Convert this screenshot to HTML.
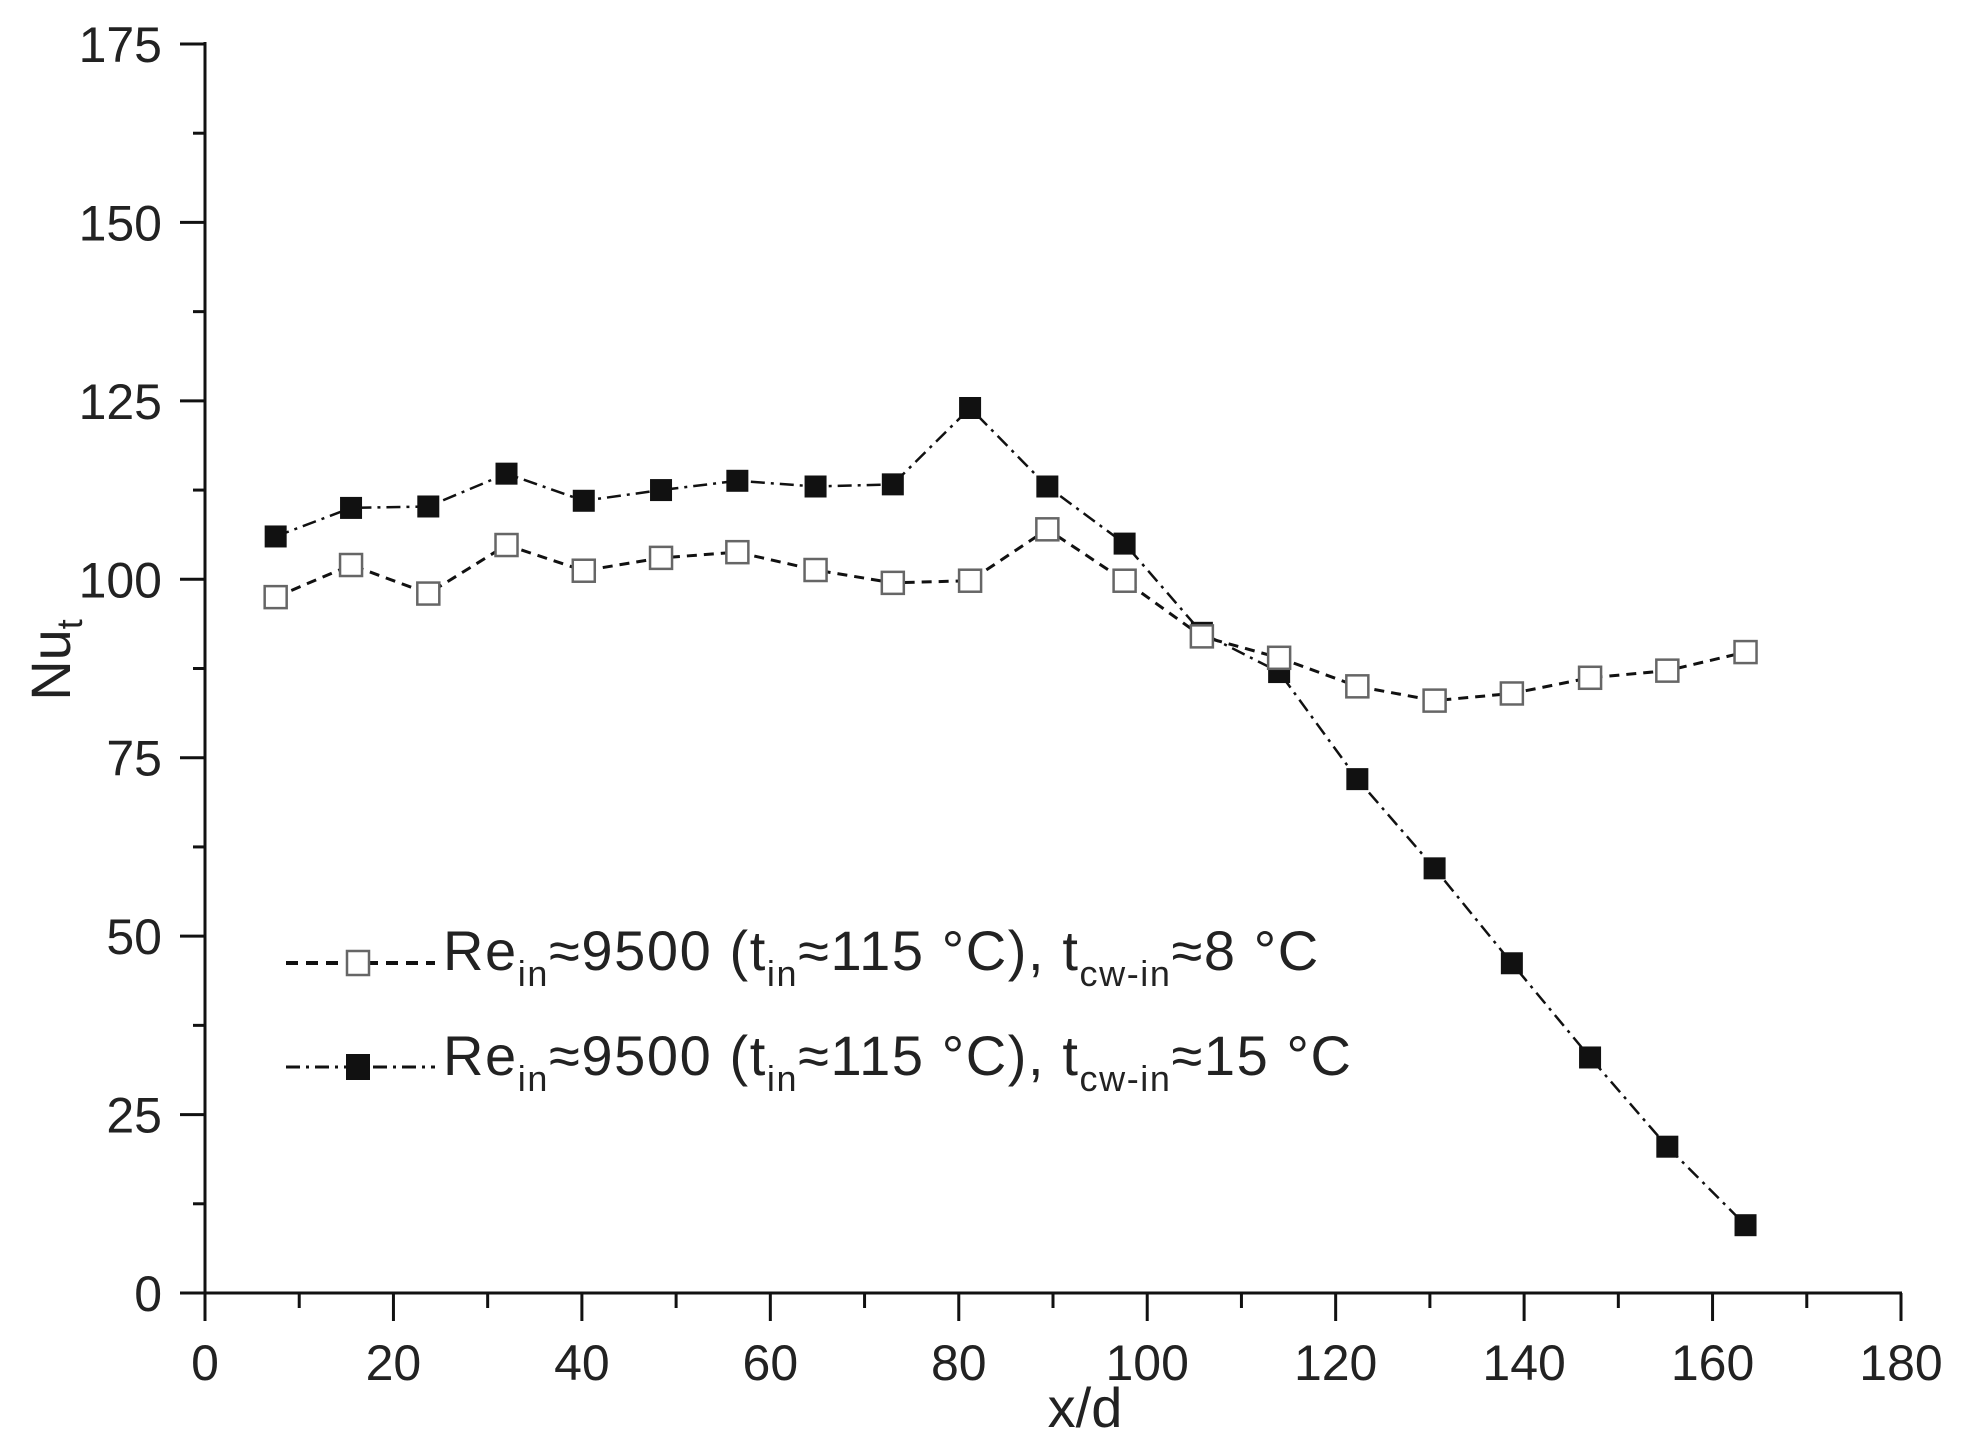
<!DOCTYPE html>
<html><head><meta charset="utf-8"><style>
html,body{margin:0;padding:0;background:#fff;}
svg{display:block;}
text{font-family:"Liberation Sans",Arial,sans-serif;fill:#222;}
</style></head><body>
<svg id="s" width="1971" height="1446" viewBox="0 0 1971 1446" xmlns="http://www.w3.org/2000/svg">
<g stroke="#111" stroke-width="3" fill="none">
<line x1="205" y1="42" x2="205" y2="1294"/>
<line x1="204" y1="1293" x2="1902" y2="1293"/>
</g>
<g id="ticks" stroke="#111" stroke-width="3"></g>
<g id="labels" font-size="50" text-anchor="end"></g>
<g id="xlabels" font-size="50" text-anchor="middle"></g>
<g id="series"></g>
<text x="1085" y="1427" font-size="56" text-anchor="middle">x/d</text>
<text transform="translate(70,660) rotate(-90)" font-size="56" text-anchor="middle">Nu<tspan font-size="36" dy="12">t</tspan></text>
<g font-size="56" letter-spacing="1.6">
<line x1="286" y1="963" x2="435" y2="963" stroke="#111" stroke-width="4" stroke-dasharray="12,8"/>
<rect x="347" y="951" width="22" height="24" fill="#fff" stroke="#666" stroke-width="2.5"/>
<text x="443" y="970">Re<tspan font-size="36" dy="16">in</tspan><tspan dy="-16">≈9500 (t</tspan><tspan font-size="36" dy="16">in</tspan><tspan dy="-16">≈115 °C), t</tspan><tspan font-size="36" dy="16">cw-in</tspan><tspan dy="-16">≈8 °C</tspan></text>
<line x1="286" y1="1067" x2="435" y2="1067" stroke="#111" stroke-width="3" stroke-dasharray="14,6,3,6"/>
<rect x="347" y="1055" width="22" height="24" fill="#111" stroke="#111" stroke-width="2"/>
<text x="443" y="1075">Re<tspan font-size="36" dy="16">in</tspan><tspan dy="-16">≈9500 (t</tspan><tspan font-size="36" dy="16">in</tspan><tspan dy="-16">≈115 °C), t</tspan><tspan font-size="36" dy="16">cw-in</tspan><tspan dy="-16">≈15 °C</tspan></text>
</g>
</svg>
<script>
var NS="http://www.w3.org/2000/svg";
function X(v){return 205+v*1696/180;}
function Y(v){return 1293-v*1249/175;}
function el(p,t,a,txt){var e=document.createElementNS(NS,t);for(var k in a)e.setAttribute(k,a[k]);if(txt!=null)e.textContent=txt;document.getElementById(p).appendChild(e);return e;}
for(var v=0;v<=175;v+=12.5){var maj=(v%25===0);var y=Y(v);el("ticks","line",{x1:205-(maj?25:12),y1:y,x2:205,y2:y});if(maj)el("labels","text",{x:162,y:y+18},String(v));}
for(var v=0;v<=180;v+=10){var maj=(v%20===0);var x=X(v);el("ticks","line",{x1:x,y1:1293,x2:x,y2:1293+(maj?28:15)});if(maj)el("xlabels","text",{x:x,y:1380},String(v));}
var xs=[7.5,15.5,23.7,32,40.2,48.4,56.5,64.8,73,81.2,89.4,97.6,105.8,114,122.3,130.5,138.7,147,155.2,163.5];
var a=[97.5,102,98,104.8,101.2,103,103.8,101.3,99.5,99.8,107,99.8,92,89,85,83,84,86.2,87.2,89.8];
var b=[106,110,110.2,114.8,111,112.5,113.8,113,113.3,124,113,105,92.5,87,72,59.5,46.2,33,20.5,9.5];
function pts(d){return xs.map(function(x,i){return X(x)+","+Y(d[i]);}).join(" ");}
el("series","polyline",{points:pts(b),fill:"none",stroke:"#111","stroke-width":2.5,"stroke-dasharray":"14,6,3,6"});
el("series","polyline",{points:pts(a),fill:"none",stroke:"#111","stroke-width":3,"stroke-dasharray":"10,7"});
xs.forEach(function(x,i){el("series","rect",{x:X(x)-11,y:Y(b[i])-11,width:22,height:22,fill:"#111"});});
xs.forEach(function(x,i){el("series","rect",{x:X(x)-11,y:Y(a[i])-11,width:22,height:22,fill:"#fff",stroke:"#666","stroke-width":2.5});});
</script>
</body></html>
